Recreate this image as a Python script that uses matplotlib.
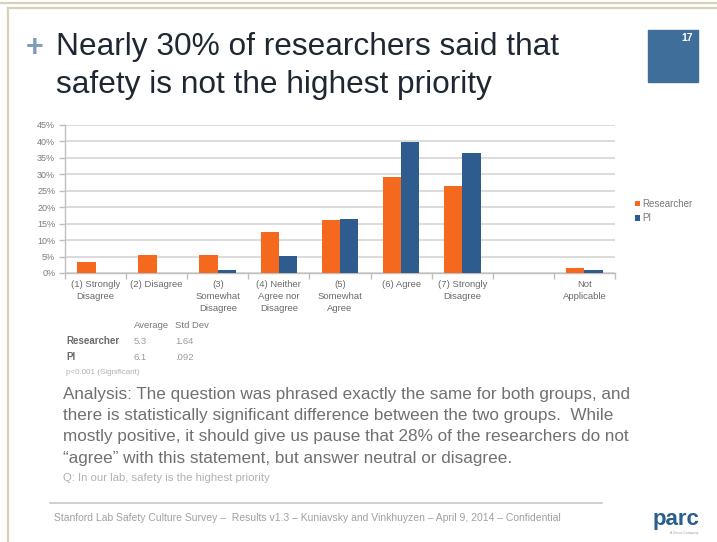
import matplotlib
matplotlib.use("Agg")
import matplotlib.pyplot as plt
from matplotlib.lines import Line2D
from matplotlib.patches import Rectangle
import numpy as np

# ---- data ----
categories = ["(1) Strongly\nDisagree", "(2) Disagree", "(3)\nSomewhat\nDisagree",
              "(4) Neither\nAgree nor\nDisagree", "(5)\nSomewhat\nAgree", "(6) Agree",
              "(7) Strongly\nDisagree", "", "Not\nApplicable"]
researcher = [3.4, 5.6, 5.6, 12.6, 16.0, 29.1, 26.6, 0.0, 1.5]
pi = [0.0, 0.0, 1.0, 5.3, 16.3, 39.8, 36.6, 0.0, 0.9]
yticks = [0, 5, 10, 15, 20, 25, 30, 35, 40, 45]
series_names = ["Researcher", "PI"]

stats_header = ["Average", "Std Dev"]
stats_rows = [("Researcher", "5.3", "1.64"), ("PI", "6.1", ".092")]

W, H = 717, 542
fig = plt.figure(figsize=(W / 100, H / 100), dpi=100)
fig.patch.set_facecolor("white")

def fx(x):
    return x / W

def fy(y):
    return 1 - y / H

FONT = "Liberation Sans"
orange = "#F4691E"
blue = "#2F5C8E"

# ---- slide frame ----
tan = "#D8D1BA"
fig.add_artist(Line2D([0, 1], [fy(2.5), fy(2.5)], color=tan, lw=1.6, transform=fig.transFigure))
fig.add_artist(Line2D([fx(7.5), 1], [fy(7.5), fy(7.5)], color=tan, lw=1.6, transform=fig.transFigure))
fig.add_artist(Line2D([fx(7.5), fx(7.5)], [fy(7.5), 0], color=tan, lw=1.6, transform=fig.transFigure))

# ---- title ----
fig.text(fx(26), fy(48), "+", fontsize=22, color="#7F9CBB", family=FONT, va="center", ha="left", weight="bold")
fig.text(fx(56), fy(47), "Nearly 30% of researchers said that", fontsize=22.8, color="#1F2733",
         family=FONT, va="center", ha="left")
fig.text(fx(56), fy(85), "safety is not the highest priority", fontsize=22.8, color="#1F2733",
         family=FONT, va="center", ha="left")

# slide number box
fig.add_artist(Rectangle((fx(648), fy(82)), fx(50), 52 / H, color="#3F6E9B", transform=fig.transFigure))
fig.text(fx(693), fy(38), "17", fontsize=7.5, color="white", family=FONT, ha="right", va="center", weight="bold")

# ---- chart ----
ax = fig.add_axes([fx(65), fy(273), fx(550), 148 / H])
x = np.arange(len(categories))
bw = 0.3
ax.bar(x - bw / 2, researcher, bw, color=orange, label=series_names[0], zorder=3)
ax.bar(x + bw / 2, pi, bw, color=blue, label=series_names[1], zorder=3)
ax.set_xlim(-0.5, len(categories) - 0.5)
ax.set_ylim(0, 45)
ax.set_yticks(yticks)
ax.set_yticklabels([f"{t}%" for t in yticks], fontsize=6.5, color="#7a7a7a", family=FONT)
ax.yaxis.grid(True, color="#D9D9D9", lw=1.3, zorder=0)
ax.set_xticks(x)
ax.set_xticklabels(categories, fontsize=6.8, color="#6a6a6a", family=FONT, linespacing=1.4)
ax.tick_params(axis="x", length=0, pad=5)
ax.set_xticks(np.arange(-0.5, len(categories)), minor=True)
ax.tick_params(axis="x", which="minor", length=4, color="#BFBFBF", width=1)
ax.tick_params(axis="y", length=4, color="#BFBFBF", width=1, pad=3)
for s in ["top", "right"]:
    ax.spines[s].set_visible(False)
ax.spines["left"].set_color("#BFBFBF")
ax.spines["bottom"].set_color("#BFBFBF")
ax.spines["left"].set_linewidth(1)
ax.spines["bottom"].set_linewidth(1)

leg = ax.legend(loc="center left", bbox_to_anchor=((631 - 65) / 550, (273 - 211) / 148),
                frameon=False, handlelength=0.5, handleheight=0.5, handletextpad=0.3,
                labelspacing=0.45, prop={"family": FONT, "size": 7}, borderaxespad=0)
for t in leg.get_texts():
    t.set_color("#7a7a7a")

# ---- stats table ----
sc = "#7a7a7a"
fig.text(fx(134), fy(326), stats_header[0], fontsize=6.8, color=sc, family=FONT, va="center")
fig.text(fx(175), fy(326), stats_header[1], fontsize=6.8, color=sc, family=FONT, va="center")
for i, (name, avg, sd) in enumerate(stats_rows):
    yy = 341 + i * 16
    fig.text(fx(66), fy(yy), name, fontsize=7, color="#6a6a6a", family=FONT, va="center", weight="bold")
    fig.text(fx(134), fy(yy), avg, fontsize=6.8, color="#9a9a9a", family=FONT, va="center")
    fig.text(fx(175), fy(yy), sd, fontsize=6.8, color="#9a9a9a", family=FONT, va="center")
fig.text(fx(66), fy(372), "p<0.001 (Significant)", fontsize=5.8, color="#b0b0b0", family=FONT, va="center")

# ---- analysis text ----
analysis = ["Analysis: The question was phrased exactly the same for both groups, and",
            "there is statistically significant difference between the two groups.  While",
            "mostly positive, it should give us pause that 28% of the researchers do not",
            "\u201cagree\u201d with this statement, but answer neutral or disagree."]
for i, line in enumerate(analysis):
    fig.text(fx(63), fy(394 + i * 21.5), line, fontsize=12.3, color="#707070", family=FONT, va="center")
fig.text(fx(63), fy(478), "Q: In our lab, safety is the highest priority", fontsize=8.2,
         color="#b0b0b0", family=FONT, va="center")

# ---- footer ----
fig.add_artist(Line2D([fx(50), fx(602)], [fy(503), fy(503)], color="#C8C8C8", lw=1.2, transform=fig.transFigure))
fig.text(fx(54), fy(518), "Stanford Lab Safety Culture Survey \u2013  Results v1.3 \u2013 Kuniavsky and Vinkhuyzen \u2013 April 9, 2014 \u2013 Confidential",
         fontsize=7.5, color="#a0a0a0", family=FONT, va="center")
fig.text(fx(676), fy(519), "parc", fontsize=16, color="#2A5E8C", family=FONT, weight="bold", ha="center", va="center")
fig.text(fx(684), fy(533), "A Xerox Company", fontsize=2.5, color="#a0a0a0", family=FONT, ha="center", va="center")

fig.savefig("out.png", dpi=100, facecolor="white")
